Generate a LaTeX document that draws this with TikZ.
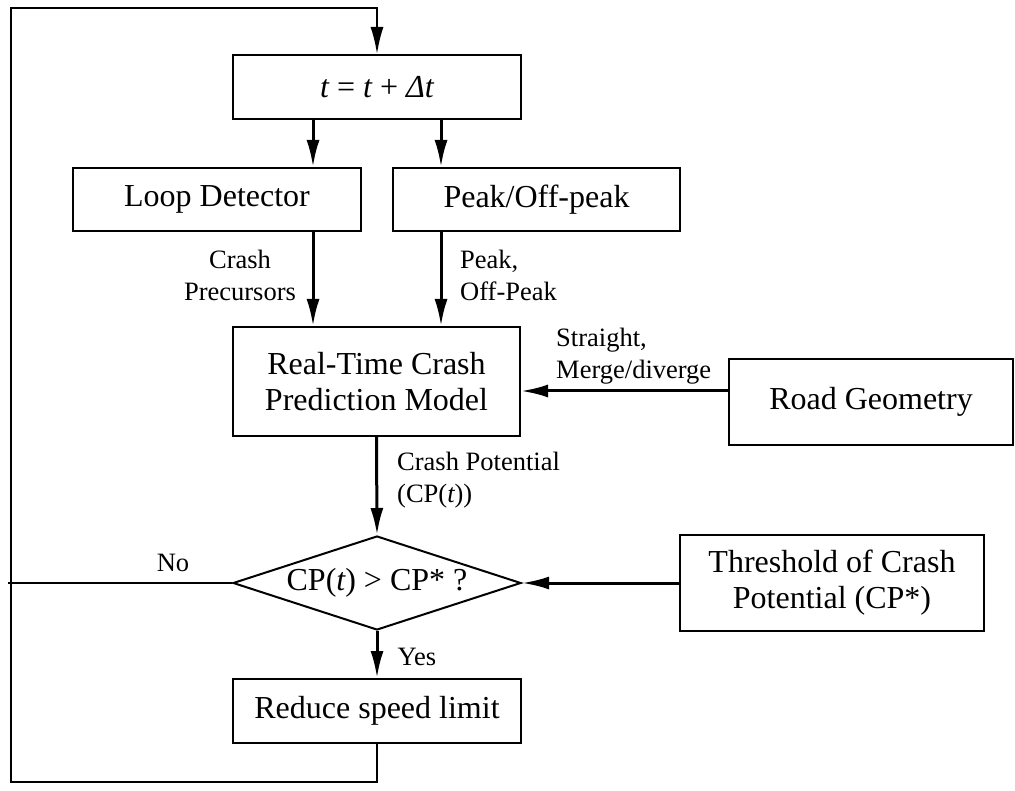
\documentclass[tikz,border=0pt]{standalone}
\usepackage{fontspec}
\setmainfont{Liberation Serif}
\usetikzlibrary{arrows.meta,shapes.geometric}
\begin{document}
\begin{tikzpicture}[x=1pt,y=-1pt,
  box/.style={draw, line width=2pt, inner sep=0pt, font=\fontsize{32}{36}\selectfont, align=center},
  lbl/.style={inner sep=0pt, font=\fontsize{26.5}{32}\selectfont},
  tip/.style={-{Latex[length=27pt,width=13pt]}},
  arr/.style={line width=3pt, tip},
  ln/.style={line width=2pt}]
\useasboundingbox (0,0) rectangle (1015,791);
% nodes
\node[box, minimum width=288pt, minimum height=64pt] (top) at (377,87) {{\itshape t} = {\itshape t} + {\itshape Δt}};
\node[box, minimum width=288pt, minimum height=63pt] (ld) at (217,199.5) {Loop Detector};
\node[box, minimum width=287pt, minimum height=63pt] (pk) at (536.5,199.5) {Peak/Off-peak};
\node[box, minimum width=287pt, minimum height=109pt] (model) at (376.5,381.5) {Real-Time Crash\\Prediction Model};
\node[box, minimum width=284pt, minimum height=86pt] (road) at (871,402) {Road Geometry};
\node[diamond, draw, line width=2pt, inner sep=0pt, minimum width=288pt, minimum height=94pt] (dia) at (377,583) {};
\node[inner sep=0pt, font=\fontsize{32}{36}\selectfont] (diat) at (377,583) {CP({\itshape t}) > CP* ?};
\node[box, minimum width=304pt, minimum height=96pt] (thr) at (832,583) {Threshold of Crash\\Potential (CP*)};
\node[box, minimum width=288pt, minimum height=64pt] (red) at (377,711) {Reduce speed limit};
% labels
\node[lbl, align=center] (lcp) at (240,275) {Crash\\Precursors};
\node[lbl, align=left, anchor=west] (lpk) at (460,275) {Peak,\\Off-Peak};
\node[lbl, align=left, anchor=west] (lst) at (556,356) {Straight,\\Merge/diverge};
\node[lbl, align=left, anchor=west] (lpot) at (397,480) {Crash Potential\\(CP({\itshape t}))};
\node[lbl] (lno) at (173,563) {No};
\node[lbl] (lyes) at (417,657) {Yes};
% helper coordinates
\coordinate (xa) at (313,0);
\coordinate (xb) at (441,0);
\coordinate (ya) at (0,391);
\coordinate (lb) at (11,782);
\coordinate (lt) at (11,8);
\coordinate (nl) at (8,0);
% connectors
\draw[arr] (top.south -| xa) -- (ld.north -| xa);
\draw[arr] (top.south -| xb) -- (pk.north -| xb);
\draw[arr] (ld.south -| xa) -- (model.north -| xa);
\draw[arr] (pk.south -| xb) -- (model.north -| xb);
\draw[arr] (road.west |- ya) -- (model.east |- ya);
\draw[arr] (model.south) -- (dia.north);
\draw[arr] (thr.west) -- (dia.east);
\draw[arr] (dia.south) -- (red.north);
\draw[ln] (dia.west) -- (dia.west -| nl);
\draw[ln, tip] (red.south) -- (red.south |- lb) -- (lb) -- (lt) -- (lt -| top.north) -- (top.north);
\end{tikzpicture}
\end{document}
